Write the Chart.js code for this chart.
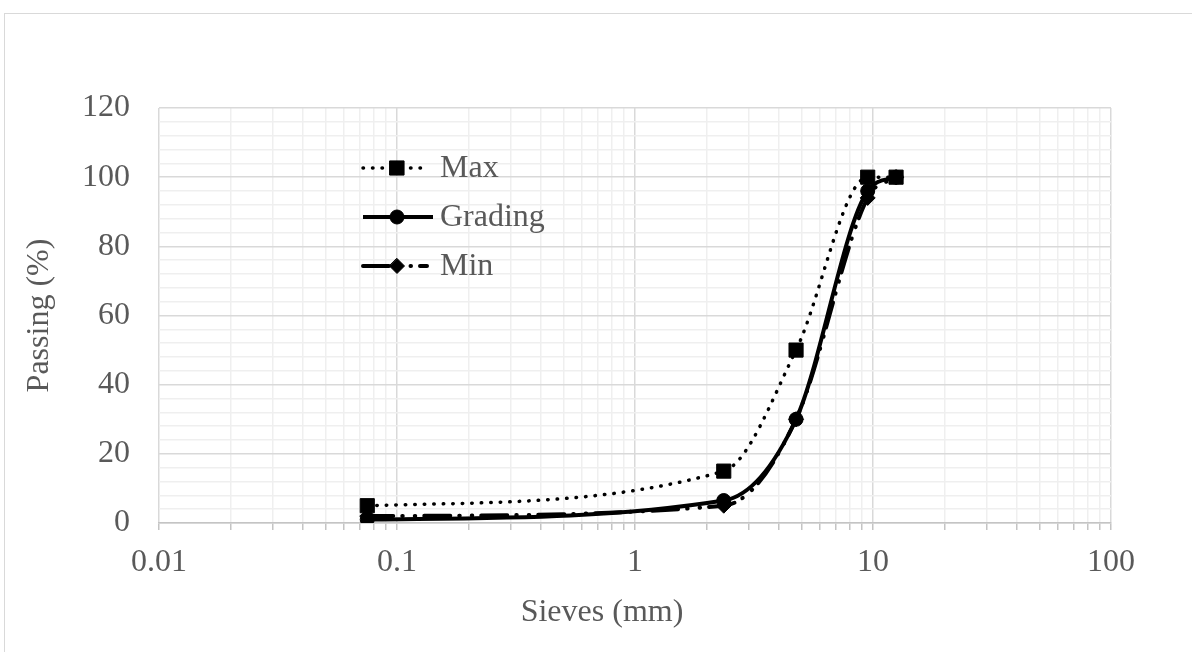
<!DOCTYPE html>
<html>
<head>
<meta charset="utf-8">
<title>Gradation</title>
<script src="https://cdn.jsdelivr.net/npm/chart.js@4.4.1/dist/chart.umd.min.js"></script>
<style>
  html, body { margin: 0; padding: 0; background: #fff; overflow: hidden; }
  #wrap { position: relative; width: 1192px; height: 652px; overflow: hidden; }
  #frame { position: absolute; left: 4px; top: 13px; width: 1400px; height: 900px; border: 1px solid #d9d9d9; box-sizing: border-box; }
  canvas { position: absolute; left: 0; top: 0; }
</style>
</head>
<body>
<div id="wrap">
  <div id="frame"></div>
  <canvas id="grafica" width="1192" height="652"></canvas>
</div>
<script>
const sieves = [0.075, 2.36, 4.75, 9.5, 12.5];
const maxPassing = [5, 15, 50, 100, 100];
const gradingPassing = [1, 6.5, 30, 96, 100];
const minPassing = [2, 5, 30, 94, 100];
const xDecades = [0.01, 0.1, 1, 10, 100];
const yLabels = [0, 20, 40, 60, 80, 100, 120];

const serif = "'Liberation Serif', 'Times New Roman', serif";
const textGray = '#595959';
const majorGrid = '#d9d9d9';
const minorGrid = '#efefef';
const fontSize = 32;

// 1..9 inside every decade, plus the closing decade
function logTicks() {
  const vals = [];
  xDecades.forEach((d, i) => {
    if (i === xDecades.length - 1) { vals.push(d); return; }
    for (let k = 1; k < 10; k++) vals.push(Number((d * k).toPrecision(3)));
  });
  return vals;
}
const isDecade = v => xDecades.includes(v);
const isLabelled = v => yLabels.includes(v);

function puntos(ys) {
  return sieves.map((x, i) => ({ x: x, y: ys[i] }));
}

function marcador(ctx, style, r, x, y) {
  ctx.beginPath();
  if (style === 'rect') {
    const s = r * Math.SQRT1_2;
    ctx.rect(x - s, y - s, 2 * s, 2 * s);
  } else if (style === 'rectRot') {
    ctx.moveTo(x, y - r); ctx.lineTo(x + r, y); ctx.lineTo(x, y + r); ctx.lineTo(x - r, y); ctx.closePath();
  } else {
    ctx.arc(x, y, r, 0, Math.PI * 2);
  }
  ctx.fill();
  ctx.stroke();
}

// legend inside the plot: line sample + marker + name
const leyenda = {
  id: 'leyenda',
  afterDatasetsDraw(chart) {
    const ctx = chart.ctx;
    const x0 = chart.chartArea.left + 204;
    const y0 = chart.chartArea.top + 60;
    const lens = [62, 70, 64];
    chart.data.datasets.forEach((ds, i) => {
      const y = y0 + i * 49;
      ctx.save();
      ctx.strokeStyle = ds.borderColor;
      ctx.fillStyle = ds.backgroundColor;
      ctx.lineWidth = ds.borderWidth;
      ctx.lineCap = ds.borderCapStyle || 'butt';
      ctx.setLineDash(ds.borderDash || []);
      ctx.beginPath();
      ctx.moveTo(x0, y);
      ctx.lineTo(x0 + lens[i], y);
      ctx.stroke();
      ctx.setLineDash([]);
      ctx.lineWidth = 1;
      marcador(ctx, ds.pointStyle, ds.pointRadius, x0 + 34, y);
      ctx.fillStyle = textGray;
      ctx.font = fontSize + 'px ' + serif;
      ctx.textBaseline = 'middle';
      ctx.textAlign = 'left';
      ctx.fillText(ds.label, x0 + 77, y + 1);
      ctx.restore();
    });
  }
};

const titulos = {
  id: 'titulos',
  afterDraw(chart) {
    const ctx = chart.ctx;
    const a = chart.chartArea;
    ctx.save();
    ctx.fillStyle = textGray;
    ctx.font = fontSize + 'px ' + serif;
    ctx.textAlign = 'center';
    ctx.textBaseline = 'middle';
    ctx.fillText('Sieves (mm)', a.left + 443, a.bottom + 90);
    ctx.translate(40, (a.top + a.bottom) / 2);
    ctx.rotate(-Math.PI / 2);
    ctx.fillText('Passing (%)', 0, 0);
    ctx.restore();
  }
};

const ctx = document.getElementById('grafica').getContext('2d');

const chart = new Chart(ctx, {
  type: 'line',
  data: {
    datasets: [
      {
        label: 'Max',
        data: puntos(maxPassing),
        borderColor: '#000',
        backgroundColor: '#000',
        borderWidth: 3.5,
        borderDash: [0.5, 9],
        borderCapStyle: 'round',
        pointStyle: 'rect',
        pointRadius: 10,
        pointBorderWidth: 1
      },
      {
        label: 'Grading',
        data: puntos(gradingPassing),
        borderColor: '#000',
        backgroundColor: '#000',
        borderWidth: 4,
        pointStyle: 'circle',
        pointRadius: 7,
        pointBorderWidth: 1
      },
      {
        label: 'Min',
        data: puntos(minPassing),
        borderColor: '#000',
        backgroundColor: '#000',
        borderWidth: 4,
        borderDash: [26, 9, 0.5, 12, 0.5, 9],
        borderCapStyle: 'round',
        pointStyle: 'rectRot',
        pointRadius: 7.5,
        pointBorderWidth: 1
      }
    ]
  },
  options: {
    responsive: false,
    animation: false,
    events: [],
    layout: { padding: { top: 108, right: 81, bottom: 69, left: 0 } },
    elements: { line: { cubicInterpolationMode: 'monotone' } },
    plugins: {
      legend: { display: false },
      tooltip: { enabled: false }
    },
    scales: {
      x: {
        type: 'logarithmic',
        min: 0.01,
        max: 100,
        afterBuildTicks: s => {
          s.ticks = logTicks().map(v => ({ value: v, major: isDecade(v) }));
        },
        afterFit: s => { s.height = 60; },
        grid: {
          color: c => (c.tick && isDecade(c.tick.value)) ? majorGrid : minorGrid,
          lineWidth: 1.5,
          tickLength: 7,
          tickColor: '#c4c4c4'
        },
        border: { color: '#c4c4c4', width: 1.5 },
        ticks: {
          autoSkip: false,
          maxRotation: 0,
          padding: 13,
          color: textGray,
          font: { family: serif, size: fontSize },
          callback: v => isDecade(v) ? String(v) : ''
        }
      },
      y: {
        min: 0,
        max: 120,
        afterFit: s => { s.width = 159; },
        grid: {
          color: c => (c.tick && isLabelled(c.tick.value)) ? majorGrid : minorGrid,
          lineWidth: 1.5,
          drawTicks: false
        },
        border: { display: false },
        ticks: {
          stepSize: 4,
          autoSkip: false,
          padding: 29,
          color: textGray,
          font: { family: serif, size: fontSize },
          callback: v => isLabelled(v) ? String(v) : ''
        }
      }
    }
  },
  plugins: [leyenda, titulos]
});
</script>
</body>
</html>
